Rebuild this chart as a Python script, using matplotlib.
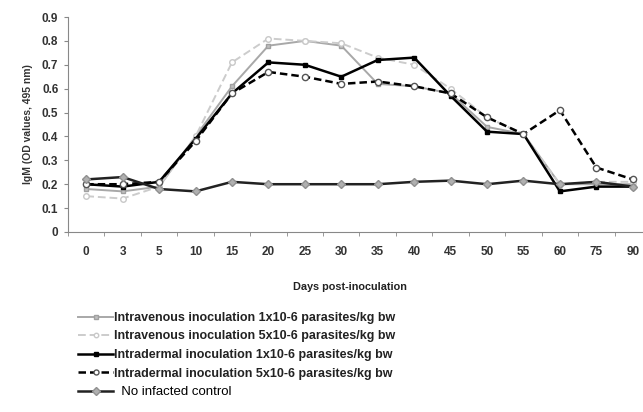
import matplotlib.pyplot as plt
import numpy as np

plt.rcParams['font.family'] = ['Liberation Sans', 'DejaVu Sans']

days = ['0', '3', '5', '10', '15', '20', '25', '30', '35', '40', '45', '50', '55', '60', '75', '90']

iv_1 = [0.18, 0.17, 0.19, 0.40, 0.61, 0.78, 0.80, 0.78, 0.62, 0.61, 0.58, 0.44, 0.41, 0.20, 0.20, 0.20]
iv_5 = [0.15, 0.14, 0.19, 0.40, 0.71, 0.81, 0.80, 0.79, 0.73, 0.70, 0.60, 0.48, 0.41, 0.20, 0.21, 0.21]
id_1 = [0.20, 0.19, 0.21, 0.39, 0.58, 0.71, 0.70, 0.65, 0.72, 0.73, 0.57, 0.42, 0.41, 0.17, 0.19, 0.19]
id_5 = [0.20, 0.20, 0.21, 0.38, 0.58, 0.67, 0.65, 0.62, 0.63, 0.61, 0.58, 0.48, 0.41, 0.51, 0.27, 0.22]
control = [0.22, 0.23, 0.18, 0.17, 0.21, 0.20, 0.20, 0.20, 0.20, 0.21, 0.215, 0.20, 0.215, 0.20, 0.21, 0.19]

labels = ['Intravenous inoculation 1x10-6 parasites/kg bw',
          'Intravenous inoculation 5x10-6 parasites/kg bw',
          'Intradermal inoculation 1x10-6 parasites/kg bw',
          'Intradermal inoculation 5x10-6 parasites/kg bw',
          '  No infacted control']

fig = plt.figure(figsize=(6.43, 4.12), dpi=100)
ax = fig.add_axes([68/643, 1 - 232/412, (651 - 68)/643, (232 - 17)/412])

x = np.arange(len(days))
ax.plot(x, iv_1, color='#a8a8a8', lw=1.4, marker='s', ms=3.5,
        mfc='#c0c0c0', mec='#a0a0a0', label=labels[0])
ax.plot(x, iv_5, color='#cccccc', lw=1.4, ls=(0, (4, 2)), marker='o', ms=4,
        mfc='white', mec='#c8c8c8', label=labels[1])
ax.plot(x, id_1, color='black', lw=1.8, marker='s', ms=3.5,
        mfc='black', mec='black', label=labels[2])
ax.plot(x, id_5, color='black', lw=1.8, ls=(0, (3, 1.6)), marker='o', ms=4.5,
        mfc='white', mec='#555555', label=labels[3])
ax.plot(x, control, color='#222222', lw=1.8, marker='D', ms=4.5,
        mfc='#b0b0b0', mec='#909090', label=labels[4])

ax.set_xlim(-0.5, len(days) - 0.5)
ax.set_ylim(0, 0.9)
ax.set_yticks(np.arange(0, 0.91, 0.1))
ax.set_yticklabels(['0'] + ['%.1f' % v for v in np.arange(0.1, 0.91, 0.1)],
                   fontsize=8.5, fontweight='bold', color='#333333')
ax.set_xticks(x)
ax.set_xticklabels(days, fontsize=8.5, fontweight='bold', color='#333333')
ax.set_xticks(np.arange(-0.5, len(days)), minor=True)
ax.tick_params(axis='x', which='major', length=0, pad=10)
ax.tick_params(axis='x', which='minor', length=3, color='#888888', direction='out')
ax.tick_params(axis='y', length=3, color='#888888', pad=4)

for s in ['top', 'right']:
    ax.spines[s].set_visible(False)
ax.spines['left'].set_color('#888888')
ax.spines['bottom'].set_color('#888888')

ax.set_ylabel('IgM (OD values, 495 nm)', fontsize=7.5, fontweight='bold',
              color='#333333', labelpad=6)
fig.text(350/643, 1 - 287/412, 'Days post-inoculation', fontsize=7.8,
         fontweight='bold', color='#222222', ha='center', va='center')

leg = fig.legend(loc='upper left', bbox_to_anchor=(78/643, 1 - 312/412),
                 frameon=False, fontsize=9, handlelength=2.8, handletextpad=0.1,
                 labelspacing=0.52, borderpad=0, borderaxespad=0, markerscale=0.8)
for i, t in enumerate(leg.get_texts()):
    if i < 4:
        t.set_fontweight('bold')
        t.set_color('#222222')
    else:
        t.set_fontsize(9.5)

fig.savefig('out.png', dpi=100)
